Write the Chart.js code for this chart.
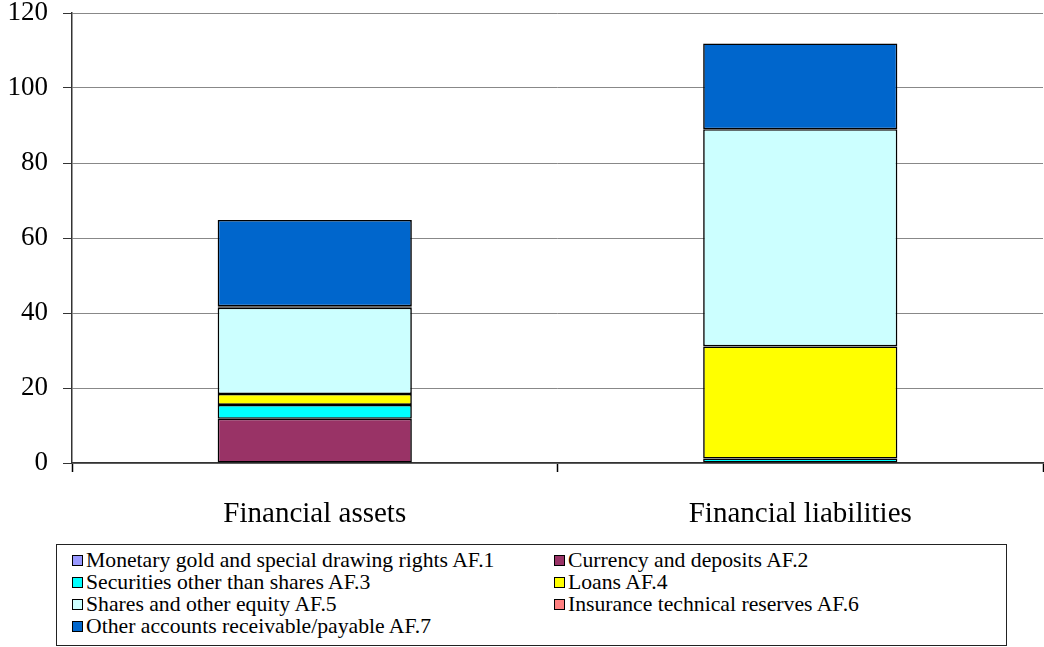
<!DOCTYPE html>
<html>
<head>
<meta charset="utf-8">
<script src="https://cdn.jsdelivr.net/npm/chart.js@4"></script>
<style>
  html, body { margin: 0; padding: 0; background: #fff; }
  #wrap { position: relative; width: 1044px; height: 647px; font-family: "Liberation Serif", "Times New Roman", Times, serif; }
  #chartBox { position: absolute; left: 0; top: 0; width: 1044px; height: 540px; }
  #legend {
    position: absolute; left: 56px; top: 544px; width: 951px; height: 102px;
    border: 1px solid #222; box-sizing: border-box;
  }
  .item { position: absolute; font-size: 21.7px; line-height: 22px; white-space: nowrap; color: #000; }
  .sw { display: inline-block; width: 9px; height: 9px; border: 1px solid #000; margin-right: 3px; vertical-align: 1px; }
</style>
</head>
<body>
<div id="wrap">
  <div id="chartBox"><canvas id="chart"></canvas></div>
  <div id="legend"></div>
</div>
<script>
const categories = ["Financial assets", "Financial liabilities"];
const seriesNames = [
  "Monetary gold and special drawing rights AF.1",
  "Currency and deposits AF.2",
  "Securities other than shares AF.3",
  "Loans AF.4",
  "Shares and other equity AF.5",
  "Insurance technical reserves AF.6",
  "Other accounts receivable/payable AF.7"
];
const af1 = [0, 0];
const af2 = [11.8, 0];
const af3 = [3.7, 1.2];
const af4 = [2.9, 29.9];
const af5 = [23.0, 57.9];
const af6 = [0.4, 0];
const af7 = [23.0, 22.9];
const yTicks = [0, 20, 40, 60, 80, 100, 120];

const seriesValues = [af1, af2, af3, af4, af5, af6, af7];
const seriesColors = ["#9999FF", "#993366", "#00FFFF", "#FFFF00", "#CCFFFF", "#FF8080", "#0066CC"];
const serif = '"Liberation Serif", "Times New Roman", Times, serif';

const ctx = document.getElementById("chart").getContext("2d");
const chart = new Chart(ctx, {
  type: "bar",
  data: {
    labels: categories,
    datasets: seriesNames.map((name, i) => ({
      label: name,
      data: seriesValues[i],
      backgroundColor: seriesColors[i],
      borderColor: "#000",
      borderWidth: 1.6,
      borderSkipped: false,
      barPercentage: 0.4,
      categoryPercentage: 1
    }))
  },
  options: {
    responsive: true,
    maintainAspectRatio: false,
    animation: false,
    layout: { padding: { top: 13, right: 1, left: 0, bottom: 0 } },
    plugins: { legend: { display: false }, tooltip: { enabled: false } },
    scales: {
      x: {
        stacked: true,
        afterFit: (axis) => { axis.height = 77; axis.paddingLeft = 0; axis.paddingRight = 0; },
        border: { color: "#333", width: 1.5 },
        grid: { offset: true, drawOnChartArea: false, drawTicks: true, tickLength: 9, tickColor: "#000", tickWidth: 1.5 },
        ticks: { color: "#000", padding: 25, font: { family: serif, size: 29 } }
      },
      y: {
        stacked: true,
        min: 0,
        max: 120,
        afterFit: (axis) => { axis.width = 72; axis.paddingTop = 0; axis.paddingBottom = 0; },
        afterBuildTicks: (axis) => { axis.ticks = yTicks.map(v => ({ value: v })); },
        border: { color: "#333", width: 1.5 },
        grid: { color: "#888", lineWidth: 1, tickLength: 9, tickColor: "#333" },
        ticks: { color: "#000", padding: 15, font: { family: serif, size: 27, lineHeight: 1 } }
      }
    }
  }
});

// two-column legend box, filled row by row like the original
const legend = document.getElementById("legend");
seriesNames.forEach((name, i) => {
  const el = document.createElement("div");
  el.className = "item";
  el.style.left = (i % 2 === 0 ? 15 : 497) + "px";
  el.style.top = (4 + Math.floor(i / 2) * 22) + "px";
  el.innerHTML = '<span class="sw" style="background:' + seriesColors[i] + '"></span>' + name;
  legend.appendChild(el);
});
</script>
</body>
</html>
